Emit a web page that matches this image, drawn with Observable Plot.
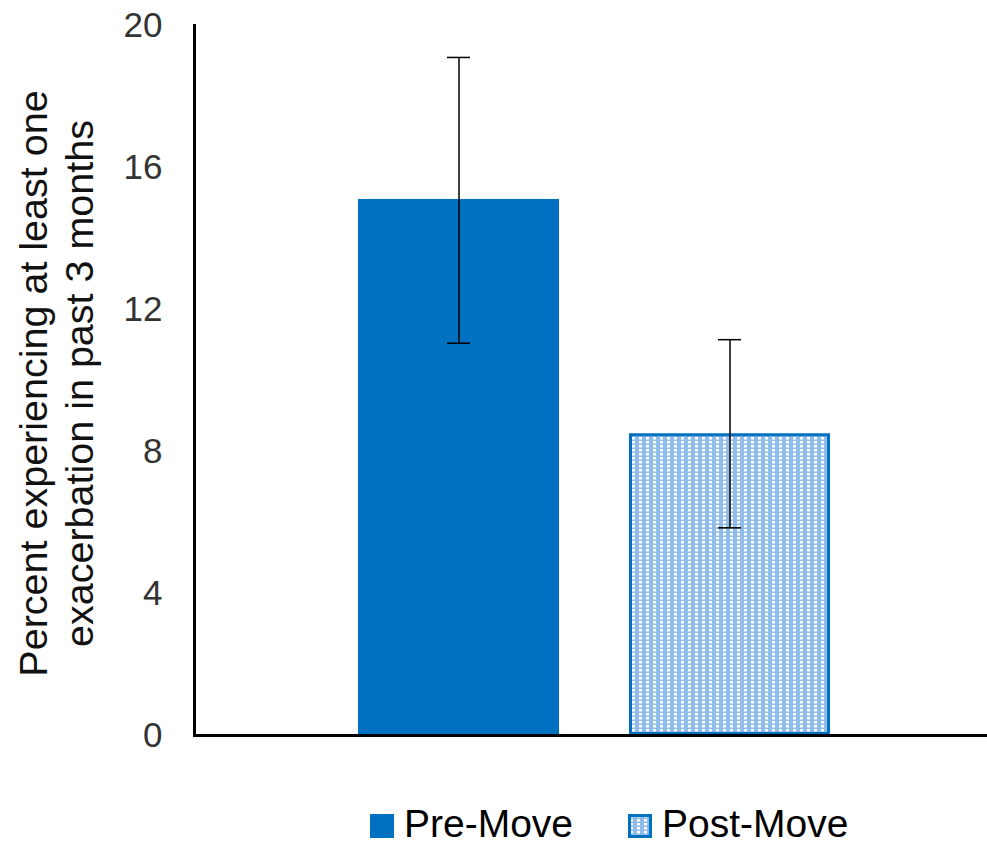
<!DOCTYPE html>
<html>
<head>
<meta charset="utf-8">
<script src="https://cdn.jsdelivr.net/npm/d3@7"></script>
<script src="https://cdn.jsdelivr.net/npm/@observablehq/plot@0.6"></script>
<style>
  html, body { margin: 0; padding: 0; background: #fff; }
  body { font-family: "Liberation Sans", Arial, sans-serif; width: 987px; }
  #legend { position: relative; height: 55px; }
  .item { position: absolute; top: 14px; height: 39px; line-height: 1; display: flex; align-items: center; font-size: 39px; color: #000; }
  .item svg { margin-right: 10px; margin-top: 4px; }
</style>
</head>
<body>
<div id="chart"></div>
<div id="legend"></div>
<script>
// ---- data ----
const categories = ["Pre-Move", "Post-Move"];
const values = [15.1, 8.5];
const errLow = [11.05, 5.85];
const errHigh = [19.1, 11.15];
const yTicks = [0, 4, 8, 12, 16, 20];
const yLabel = "Percent experiencing at least one\nexacerbation in past 3 months";

const rows = categories.map((c, i) => ({cat: c, value: values[i], lo: errLow[i], hi: errHigh[i]}));
const blue = "#0070C0";

const chart = Plot.plot({
  width: 987,
  height: 790,
  marginTop: 25,
  marginBottom: 55,
  marginLeft: 194,
  marginRight: 0,
  style: {fontFamily: "'Liberation Sans', Arial, sans-serif", background: "#fff"},
  x: {domain: categories, paddingInner: 0.26, paddingOuter: 0.59, align: 0.51, axis: null},
  y: {domain: [0, 20], ticks: yTicks, axis: null},
  marks: [
    Plot.barY(rows.filter(d => d.cat === "Pre-Move"), {x: "cat", y: "value", fill: blue}),
    Plot.barY(rows.filter(d => d.cat === "Post-Move"), {x: "cat", y: "value", fill: "url(#dots)", stroke: blue, strokeWidth: 3, inset: 1.5}),
    Plot.ruleX(rows, {x: "cat", y1: "lo", y2: "hi", stroke: "#000", strokeWidth: 1.5}),
    Plot.tickY(rows, {x: "cat", y: "lo", stroke: "#000", strokeWidth: 1.5, insetLeft: 89, insetRight: 89}),
    Plot.tickY(rows, {x: "cat", y: "hi", stroke: "#000", strokeWidth: 1.5, insetLeft: 89, insetRight: 89}),
    Plot.axisY({ticks: yTicks, tickSize: 0, tickPadding: 32, fontSize: 35, fill: "#333", label: null}),
    Plot.text([yLabel], {frameAnchor: "left", textAnchor: "middle", lineAnchor: "middle", rotate: -90, dx: -139, dy: 3, fontSize: 39.5, fill: "#111", lineHeight: 1.16}),
    Plot.ruleY([0], {stroke: "#000", strokeWidth: 3}),
    Plot.frame({anchor: "left", stroke: "#000", strokeWidth: 3})
  ]
});

// pattern definition for the dotted Post-Move fill
const ns = "http://www.w3.org/2000/svg";
function addPattern(svg) {
  const defs = document.createElementNS(ns, "defs");
  defs.innerHTML = '<pattern id="dots" width="7" height="4" patternUnits="userSpaceOnUse">' +
    '<rect width="7" height="4" fill="#8fbce8"></rect>' +
    '<rect x="2" y="1" width="3" height="2.5" fill="#ffffff"></rect></pattern>';
  svg.insertBefore(defs, svg.firstChild);
}
addPattern(chart);
document.getElementById("chart").appendChild(chart);

// legend
const legend = document.getElementById("legend");
const legendPos = [370, 628];
categories.forEach((c, i) => {
  const item = document.createElement("div");
  item.className = "item";
  item.style.left = legendPos[i] + "px";
  const sw = i === 0
    ? '<svg width="24" height="24"><rect width="24" height="24" fill="' + blue + '"></rect></svg>'
    : '<svg width="24" height="24"><rect x="1.5" y="1.5" width="21" height="21" fill="url(#dots)" stroke="' + blue + '" stroke-width="3"></rect></svg>';
  item.innerHTML = sw + '<span>' + c + '</span>';
  legend.appendChild(item);
});
</script>
</body>
</html>
